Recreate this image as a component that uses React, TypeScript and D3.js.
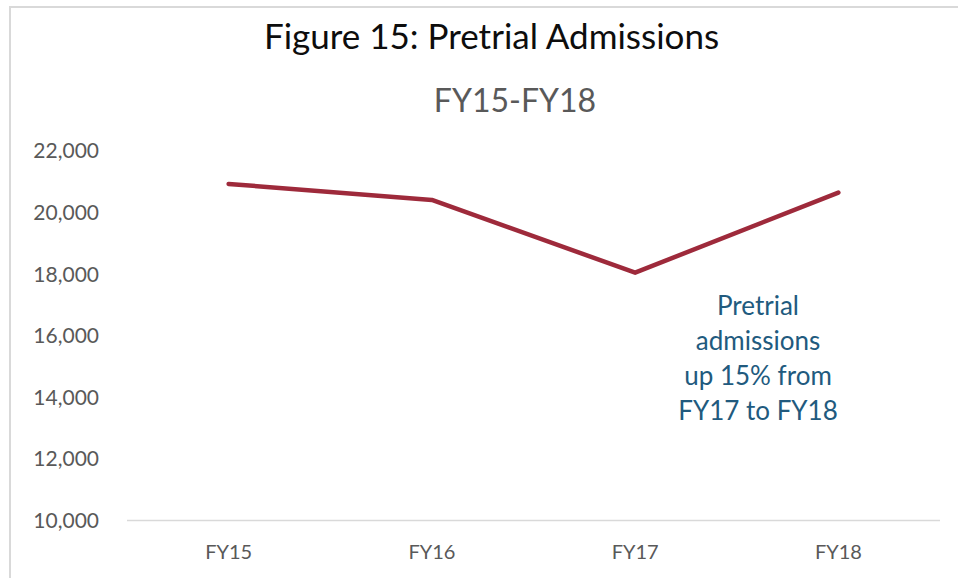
import React from "react";
import * as d3 from "d3";

const categories = ["FY15", "FY16", "FY17", "FY18"];
const admissions = [20930, 20410, 18050, 20650];
const yTicks = [10000, 12000, 14000, 16000, 18000, 20000, 22000];
const titleText = "Figure 15: Pretrial Admissions";
const subtitleText = "FY15-FY18";
const noteLines = ["Pretrial", "admissions", "up 15% from", "FY17 to FY18"];

const W = 958;
const H = 578;
const FONT = "Lato, 'Open Sans', sans-serif";

export default function App() {
  const x = d3.scalePoint<string>().domain(categories).range([127, 940]).padding(0.5);
  const y = d3.scaleLinear().domain([10000, 22000]).range([520.5, 151]);
  const fmt = d3.format(",");
  const line = d3
    .line<number>()
    .x((_, i) => x(categories[i]) as number)
    .y((d) => y(d));

  return (
    <svg
      width={W}
      height={H}
      style={{ position: "absolute", left: 0, top: 0, background: "#fff" }}
      fontFamily={FONT}
    >
      <rect x={0} y={0} width={W} height={H} fill="#fff" />
      <path d={`M10,${H} V7 H${W}`} fill="none" stroke="#d9d9d9" strokeWidth={2} />
      <text x={491.5} y={49} textAnchor="middle" fontSize={35} fill="#0d0d0d">
        {titleText}
      </text>
      <text x={515} y={112} textAnchor="middle" fontSize={32} fill="#595959">
        {subtitleText}
      </text>
      {yTicks.map((t) => (
        <text key={t} x={99} y={y(t)} dy="0.35em" textAnchor="end" fontSize={21} fill="#595959">
          {fmt(t)}
        </text>
      ))}
      <line x1={127} x2={940} y1={y(10000)} y2={y(10000)} stroke="#d9d9d9" strokeWidth={1.5} />
      {categories.map((c) => (
        <text key={c} x={x(c)} y={559} textAnchor="middle" fontSize={20} fill="#595959">
          {c}
        </text>
      ))}
      <path
        d={line(admissions) || ""}
        fill="none"
        stroke="#9e2a3b"
        strokeWidth={4.5}
        strokeLinecap="round"
        strokeLinejoin="round"
      />
      {noteLines.map((l, i) => (
        <text key={i} x={758} y={315 + i * 35} textAnchor="middle" fontSize={26} fill="#215a7e">
          {l}
        </text>
      ))}
    </svg>
  );
}
